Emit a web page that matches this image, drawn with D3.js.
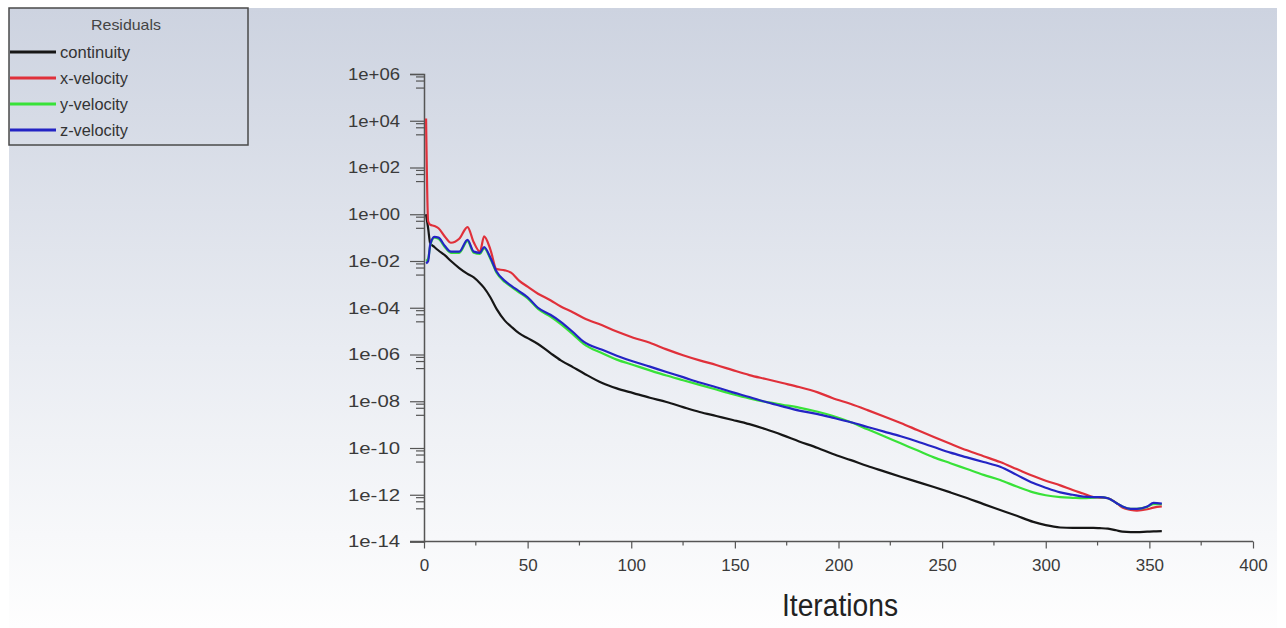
<!DOCTYPE html>
<html>
<head>
<meta charset="utf-8">
<script src="https://cdn.jsdelivr.net/npm/d3@7"></script>
<style>
	body { margin: 0; background: #fff; }
	svg { display: block; font-family: 'Liberation Sans', Arial, sans-serif; }
</style>
</head>
<body>
<svg width="1286" height="628"></svg>
<script>
const iterations = [1, 2, 3, 5, 7, 10, 13, 17, 21, 24, 27, 29, 32, 35, 39, 42, 46, 50, 55, 61, 66, 72, 77, 86, 93, 101, 109, 117, 125, 133, 141, 149, 157, 165, 173, 181, 190, 197, 206, 214, 222, 230, 238, 246, 254, 262, 270, 278, 286, 294, 300, 307, 313, 318, 323, 326, 330, 334, 337, 341, 344, 349, 352, 356];

// log10 of each residual
const continuity = [0.0, -0.6, -1.24, -1.4, -1.55, -1.75, -2.0, -2.3, -2.55, -2.7, -2.95, -3.15, -3.55, -4.05, -4.55, -4.8, -5.1, -5.3, -5.55, -5.94, -6.25, -6.55, -6.8, -7.22, -7.45, -7.65, -7.85, -8.03, -8.25, -8.46, -8.63, -8.8, -8.98, -9.2, -9.45, -9.72, -10.0, -10.25, -10.52, -10.77, -11.0, -11.23, -11.45, -11.67, -11.9, -12.14, -12.4, -12.65, -12.9, -13.16, -13.3, -13.4, -13.42, -13.42, -13.42, -13.43, -13.45, -13.52, -13.58, -13.6, -13.6, -13.58, -13.57, -13.56];
const xVelocity = [4.1, -0.3, -0.45, -0.5, -0.6, -0.95, -1.22, -1.05, -0.55, -1.2, -1.6, -0.95, -1.5, -2.35, -2.4, -2.5, -2.85, -3.1, -3.4, -3.68, -3.95, -4.2, -4.44, -4.75, -5.02, -5.28, -5.5, -5.78, -6.03, -6.25, -6.45, -6.67, -6.88, -7.05, -7.22, -7.39, -7.62, -7.86, -8.12, -8.38, -8.65, -8.93, -9.23, -9.53, -9.82, -10.1, -10.35, -10.6, -10.9, -11.2, -11.4, -11.6, -11.8, -11.95, -12.1, -12.12, -12.15, -12.35, -12.55, -12.65, -12.68, -12.62, -12.55, -12.5];
const yVelocity = [-2.0, -1.9, -1.35, -1.0, -1.05, -1.4, -1.65, -1.65, -1.15, -1.65, -1.7, -1.45, -1.9, -2.5, -2.9, -3.1, -3.35, -3.6, -4.05, -4.38, -4.7, -5.15, -5.55, -5.95, -6.22, -6.45, -6.68, -6.9, -7.1, -7.3, -7.5, -7.7, -7.88, -8.03, -8.15, -8.27, -8.45, -8.62, -8.9, -9.2, -9.5, -9.8, -10.1, -10.4, -10.65, -10.9, -11.15, -11.37, -11.65, -11.9, -12.02, -12.1, -12.13, -12.15, -12.12, -12.1, -12.15, -12.35, -12.5, -12.6, -12.6, -12.52, -12.4, -12.4];
const zVelocity = [-2.1, -2.0, -1.3, -0.97, -1.0, -1.35, -1.6, -1.6, -1.1, -1.6, -1.65, -1.4, -1.85, -2.45, -2.85, -3.05, -3.3, -3.55, -4.0, -4.3, -4.6, -5.05, -5.45, -5.8, -6.05, -6.3, -6.52, -6.75, -6.97, -7.2, -7.4, -7.62, -7.82, -8.03, -8.22, -8.4, -8.55, -8.7, -8.9, -9.1, -9.3, -9.5, -9.72, -9.96, -10.2, -10.4, -10.6, -10.8, -11.15, -11.5, -11.7, -11.9, -12.0, -12.08, -12.1, -12.1, -12.15, -12.35, -12.5, -12.6, -12.6, -12.5, -12.35, -12.38];

const seriesNames = ['continuity', 'x-velocity', 'y-velocity', 'z-velocity'];
const seriesColors = ['#161616', '#e0303a', '#38e238', '#2424c4'];
const seriesValues = [continuity, xVelocity, yVelocity, zVelocity];

const xTicks = [0, 50, 100, 150, 200, 250, 300, 350, 400];
const yTicks = [1e6, 1e4, 1e2, 1, 1e-2, 1e-4, 1e-6, 1e-8, 1e-10, 1e-12, 1e-14];
const yTickLabels = ['1e+06', '1e+04', '1e+02', '1e+00', '1e-02', '1e-04', '1e-06', '1e-08', '1e-10', '1e-12', '1e-14'];

const svg = d3.select('svg');

// background gradient
const defs = svg.append('defs');
const grad = defs.append('linearGradient').attr('id', 'bg').attr('x1', 0).attr('y1', 0).attr('x2', 0).attr('y2', 1);
grad.append('stop').attr('offset', '0%').attr('stop-color', '#cdd3e0');
grad.append('stop').attr('offset', '55%').attr('stop-color', '#e9ecf2');
grad.append('stop').attr('offset', '100%').attr('stop-color', '#fefefe');
svg.append('rect').attr('x', 9).attr('y', 8).attr('width', 1268).attr('height', 620).attr('fill', 'url(#bg)');

const x = d3.scaleLinear().domain([0, 400]).range([424, 1253]);
const y = d3.scaleLog().domain([1e-14, 1e6]).range([541.5, 74]);

// y axis: major ticks with minor ticks at 0.75, 0.5, 0.25 of each major
const yAxis = svg.append('g').attr('transform', `translate(${x(0)},0)`);
yAxis.call(d3.axisLeft(y).tickValues(yTicks).tickSize(14).tickFormat((d, i) => yTickLabels[i]).tickPadding(10));
const minors = [];
yTicks.slice(0, -1).forEach((t) => [0.75, 0.5, 0.25].forEach((f) => minors.push(t * f)));
yAxis.selectAll('.minor').data(minors).enter().append('line')
	.attr('class', 'minor').attr('x1', -8).attr('x2', 0)
	.attr('y1', (d) => y(d)).attr('y2', (d) => y(d));

// x axis
const xAxis = svg.append('g').attr('transform', `translate(0,${y(1e-14)})`);
xAxis.call(d3.axisBottom(x).tickValues(xTicks).tickSize(7).tickPadding(10));
xAxis.selectAll('.minor').data(d3.range(25, 400, 50)).enter().append('line')
	.attr('class', 'minor').attr('y1', 0).attr('y2', 4)
	.attr('x1', (d) => x(d)).attr('x2', (d) => x(d));

svg.selectAll('.domain').attr('stroke', '#555').attr('stroke-width', 1.5);
svg.selectAll('.tick line, .minor').attr('stroke', '#555').attr('stroke-width', 1.2);
svg.selectAll('.tick text').attr('font-size', 17).attr('fill', '#3a3a3a').attr('font-family', "'Liberation Sans', Arial, sans-serif");
yAxis.selectAll('.tick text').attr('textLength', 52).attr('lengthAdjust', 'spacingAndGlyphs');
// extend x axis line to meet the last y tick
xAxis.select('.domain').attr('d', `M${x(0) - 14},0H${x(400)}`);

svg.append('text')
	.attr('x', 840).attr('y', 616)
	.attr('text-anchor', 'middle')
	.attr('font-size', 31).attr('fill', '#222')
	.attr('textLength', 116).attr('lengthAdjust', 'spacingAndGlyphs')
	.text('Iterations');

// residual curves
const line = d3.line()
	.x((d) => x(d[0]))
	.y((d) => y(10 ** d[1]))
	.curve(d3.curveMonotoneX);

seriesValues.forEach((vals, k) => {
	svg.append('path')
		.datum(iterations.map((it, i) => [it, vals[i]]))
		.attr('fill', 'none')
		.attr('stroke', seriesColors[k])
		.attr('stroke-width', 2.2)
		.attr('stroke-linejoin', 'round')
		.attr('d', line);
});

// legend
const legend = svg.append('g');
legend.append('rect').attr('x', 9).attr('y', 8).attr('width', 239).attr('height', 137)
	.attr('fill', 'none').attr('stroke', '#4a4a4a').attr('stroke-width', 1.5);
legend.append('text').attr('x', 126).attr('y', 30).attr('text-anchor', 'middle')
	.attr('font-size', 15).attr('fill', '#444')
	.attr('textLength', 70).attr('lengthAdjust', 'spacingAndGlyphs').text('Residuals');
seriesNames.forEach((name, i) => {
	const ly = 52 + i * 26;
	legend.append('line').attr('x1', 10).attr('x2', 56).attr('y1', ly).attr('y2', ly)
		.attr('stroke', seriesColors[i]).attr('stroke-width', 3);
	legend.append('text').attr('x', 60).attr('y', ly + 5.5)
		.attr('font-size', 16).attr('fill', '#333')
		.attr('textLength', i === 0 ? 70 : 68).attr('lengthAdjust', 'spacingAndGlyphs')
		.text(name);
});
</script>
</body>
</html>
